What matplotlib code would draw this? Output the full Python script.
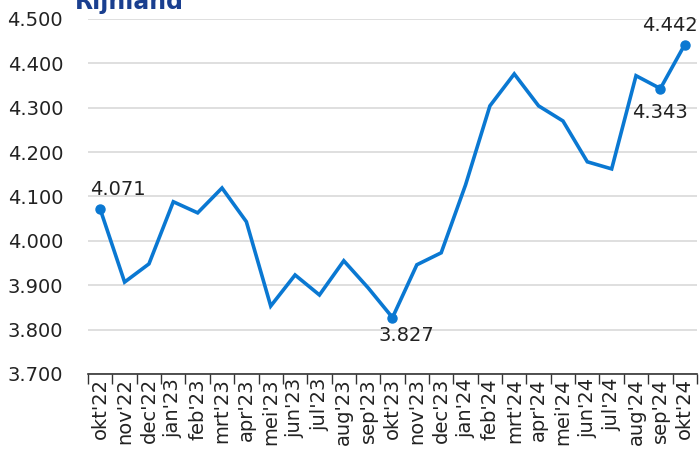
import numpy as np
import matplotlib.pyplot as plt
from matplotlib.ticker import FuncFormatter, FixedLocator

maanden = ["okt'22", "nov'22", "dec'22", "jan'23", "feb'23", "mrt'23", "apr'23",
           "mei'23", "jun'23", "jul'23", "aug'23", "sep'23", "okt'23", "nov'23",
           "dec'23", "jan'24", "feb'24", "mrt'24", "apr'24", "mei'24", "jun'24",
           "jul'24", "aug'24", "sep'24", "okt'24"]
waarden = [4071, 3907, 3948, 4088, 4063, 4119, 4043, 3853, 3923, 3878, 3955,
           3894, 3827, 3946, 3973, 4126, 4304, 4376, 4304, 4270, 4178, 4162,
           4372, 4343, 4442]
# labels: index -> (dx, dy) offset in points
labels = {0: (13, 14), 12: (10, -13), 23: (0, -17), 24: (-11, 14)}

blauw = '#0a78d2'
fs = 14

fig = plt.figure(figsize=(6.99, 4.5), dpi=100)
ax = fig.add_axes([0.126, 0.169, 0.871, 0.789])

x = np.arange(len(waarden))
ax.plot(x, waarden, color=blauw, linewidth=2.6, solid_joinstyle='miter', zorder=3)
for i, (dx, dy) in labels.items():
    ax.plot(x[i], waarden[i], 'o', color=blauw, markersize=6.5, zorder=4)
    ax.annotate(f"{waarden[i]:,}".replace(",", "."), (x[i], waarden[i]),
                xytext=(dx, dy), textcoords='offset points', ha='center',
                va='center', fontsize=fs, color='#222222')

ax.set_xlim(-0.5, len(waarden) - 0.5)
ax.set_ylim(3700, 4500)
ax.set_yticks(np.arange(3700, 4501, 100))
ax.yaxis.set_major_formatter(FuncFormatter(lambda v, p: f"{v:,.0f}".replace(",", ".")))
ax.set_xticks(x)
ax.set_xticklabels(maanden, rotation=90)
ax.xaxis.set_minor_locator(FixedLocator(np.arange(-0.5, len(waarden), 1)))
ax.tick_params(axis='x', which='major', length=0, pad=3, labelsize=fs, colors='#222222')
ax.tick_params(axis='x', which='minor', length=7, width=1, color='#333333')
ax.tick_params(axis='y', length=0, pad=18, labelsize=fs, colors='#222222')

ax.grid(axis='y', color='#d9d9d9', linewidth=1.2)
ax.set_axisbelow(True)
for s in ['top', 'right', 'left']:
    ax.spines[s].set_visible(False)
ax.spines['bottom'].set_color('#333333')
ax.spines['bottom'].set_linewidth(1.2)

fig.text(0.107, 0.98, "Rijnland", fontsize=17, fontweight='bold', color='#1a3f8f',
         ha='left', va='baseline')

fig.savefig('out.png', dpi=100)
